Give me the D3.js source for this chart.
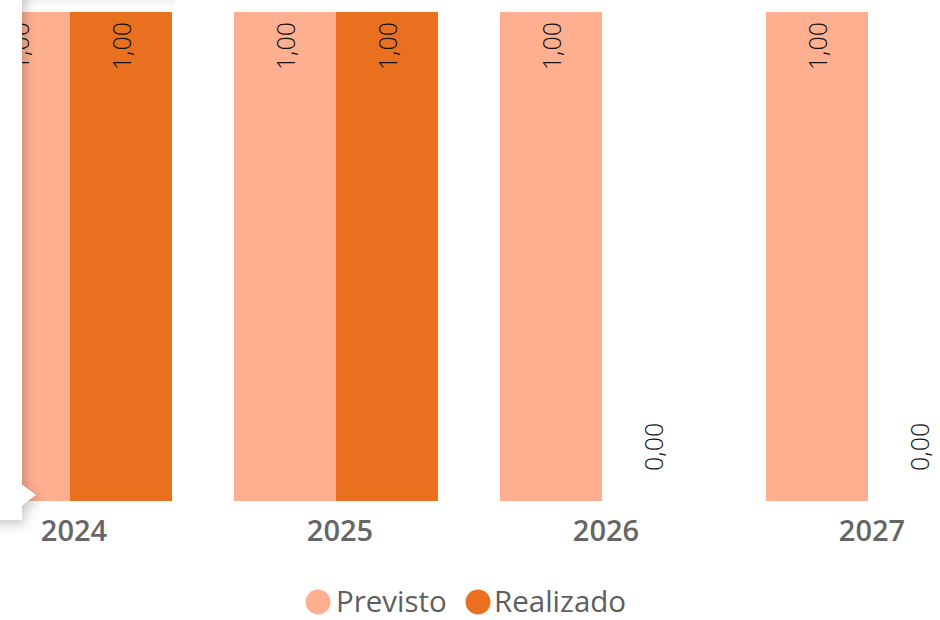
<!DOCTYPE html>
<html>
<head>
<meta charset="utf-8">
<script src="https://cdn.jsdelivr.net/npm/d3@7"></script>
<style>
  body { margin: 0; background: #fff; }
  svg { display: block; }
</style>
</head>
<body>
<div id="chart"></div>
<script>
const years = ['2024', '2025', '2026', '2027'];
const series = ['Previsto', 'Realizado'];
const previsto = [1, 1, 1, 1];
const realizado = [1, 1, 0, 0];
const colors = ['#FEAF8F', '#E9701F'];

const width = 940, height = 620;
const svg = d3.select('#chart').append('svg')
  .attr('width', width)
  .attr('height', height)
  .attr('font-family', '"Open Sans", "Noto Sans", sans-serif');

const defs = svg.append('defs');
const shadow = defs.append('filter').attr('id', 'shadow')
  .attr('x', '-50%').attr('y', '-10%').attr('width', '300%').attr('height', '130%');
shadow.append('feDropShadow')
  .attr('dx', 3).attr('dy', 4).attr('stdDeviation', 6)
  .attr('flood-color', '#000').attr('flood-opacity', 0.22);
const topGrad = defs.append('linearGradient').attr('id', 'topGrad')
  .attr('x1', 0).attr('y1', 0).attr('x2', 0).attr('y2', 1);
topGrad.append('stop').attr('offset', 0).attr('stop-color', '#e6e6e6');
topGrad.append('stop').attr('offset', 1).attr('stop-color', '#fff').attr('stop-opacity', 0);

const x0 = d3.scaleBand()
  .domain(years)
  .range([-32, 970])
  .paddingInner(62 / 266)
  .paddingOuter(0);
const x1 = d3.scaleBand()
  .domain(series)
  .range([0, x0.bandwidth()]);
const y = d3.scaleLinear().domain([0, 1]).range([501, 12]);
const color = d3.scaleOrdinal().domain(series).range(colors);

const rows = years.map((yr, i) => ({
  year: yr,
  values: [
    { key: 'Previsto', value: previsto[i] },
    { key: 'Realizado', value: realizado[i] }
  ]
}));

const fmt = v => d3.format('.2f')(v).replace('.', ',');

const groups = svg.append('g').selectAll('g')
  .data(rows)
  .join('g')
  .attr('transform', d => `translate(${x0(d.year)},0)`);

groups.selectAll('rect')
  .data(d => d.values)
  .join('rect')
  .attr('x', d => x1(d.key))
  .attr('y', d => y(d.value))
  .attr('width', x1.bandwidth())
  .attr('height', d => y(0) - y(d.value))
  .attr('fill', d => color(d.key));

groups.selectAll('text.val')
  .data(d => d.values)
  .join('text')
  .attr('class', 'val')
  .attr('transform', d => {
    const cx = x1(d.key) + x1.bandwidth() / 2 + 10;
    const ty = d.value > 0 ? y(d.value) + 10 : y(0) - 30;
    return `translate(${cx},${ty}) rotate(-90)`;
  })
  .attr('text-anchor', d => d.value > 0 ? 'end' : 'start')
  .attr('font-size', 25)
  .attr('font-weight', 300)
  .attr('fill', '#111')
  .text(d => fmt(d.value));

// category axis labels
svg.append('g').selectAll('text')
  .data(years)
  .join('text')
  .attr('x', d => x0(d) + x0.bandwidth() / 2 + 4)
  .attr('y', 541)
  .attr('text-anchor', 'middle')
  .attr('font-size', 29)
  .attr('font-weight', 600)
  .attr('fill', '#666')
  .text(d => d);

// faint shade along the top edge
svg.append('rect')
  .attr('x', 0).attr('y', 0).attr('width', 175).attr('height', 12)
  .attr('fill', 'url(#topGrad)').attr('opacity', 0.6);

// tooltip panel cut at the left edge
const panel = svg.append('g').attr('filter', 'url(#shadow)');
panel.append('rect')
  .attr('x', -30).attr('y', -20).attr('width', 52).attr('height', 540)
  .attr('fill', '#fff');
panel.append('path')
  .attr('d', 'M21,484 L36,495 L21,506 Z')
  .attr('fill', '#fff');

// legend
const legendData = [
  { key: 'Previsto', cx: 318, tx: 336 },
  { key: 'Realizado', cx: 478, tx: 494 }
];
const legend = svg.append('g').selectAll('g')
  .data(legendData)
  .join('g');
legend.append('circle')
  .attr('cx', d => d.cx)
  .attr('cy', 602)
  .attr('r', 12.5)
  .attr('fill', d => color(d.key));
legend.append('text')
  .attr('x', d => d.tx)
  .attr('y', 612)
  .attr('font-size', 29.5)
  .attr('fill', '#605E5C')
  .text(d => d.key);
</script>
</body>
</html>
